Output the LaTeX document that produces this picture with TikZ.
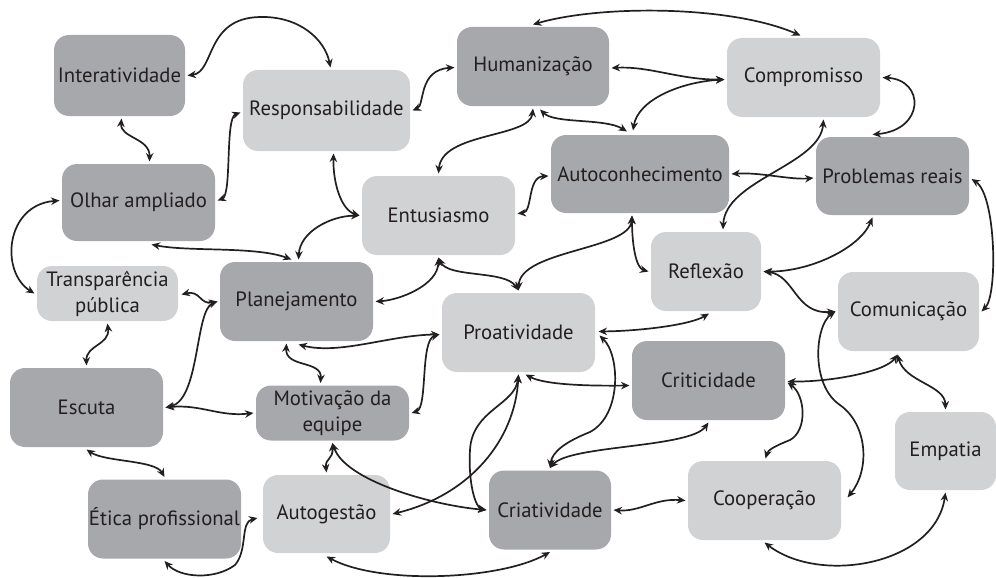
\documentclass[tikz,border=0pt]{standalone}
\usepackage{fontspec}
\setmainfont{PT Sans}
\usetikzlibrary{arrows.meta,calc}
\definecolor{boxdark}{HTML}{A7A8AB}
\definecolor{boxlight}{HTML}{D1D2D4}
\definecolor{ink}{HTML}{231F20}
\begin{document}
\begin{tikzpicture}[x=1pt,y=-1pt,
  basebox/.style={rounded corners=15pt, inner sep=0pt, outer sep=2.5pt, text=ink,
    font=\fontsize{20.7}{26}\selectfont, align=center},
  dk/.style={basebox, fill=boxdark},
  lt/.style={basebox, fill=boxlight},
  link/.style={draw=ink, line width=1.7pt, <->, >={Stealth[length=8.5pt,width=7.5pt]}}]
\useasboundingbox (0,0) rectangle (996,578);
% nodes
\node[dk, minimum width=131pt, minimum height=81pt] (inter) at (119.5,75.5) {Interatividade};
\node[lt, minimum width=167pt, minimum height=81pt] (resp) at (326.5,110.5) {Responsabilidade};
\node[dk, minimum width=152pt, minimum height=79pt] (hum) at (533,66.5) {Humanização};
\node[lt, minimum width=153pt, minimum height=79pt] (comp) at (803.5,77.5) {Compromisso};
\node[dk, minimum width=178pt, minimum height=78pt] (auto) at (640,174) {Autoconhecimento};
\node[dk, minimum width=153pt, minimum height=78pt] (prob) at (892.5,176) {Problemas reais};
\node[dk, minimum width=153pt, minimum height=77pt] (olhar) at (138.5,202.5) {Olhar ampliado};
\node[lt, minimum width=153pt, minimum height=79pt] (entu) at (438.5,215.5) {Entusiasmo};
\node[lt, minimum width=110pt, minimum height=79pt] (refl) at (706,271.5) {Reflexão};
\node[lt, minimum width=141pt, minimum height=55pt] (transp) at (107.5,293.5) {Transparência\\pública};
\node[dk, minimum width=153pt, minimum height=79pt] (plan) at (296.5,301.5) {Planejamento};
\node[lt, minimum width=141pt, minimum height=79pt] (comu) at (908.5,311.5) {Comunicação};
\node[lt, minimum width=153pt, minimum height=79pt] (proa) at (518.5,332.5) {Proatividade};
\node[dk, minimum width=153pt, minimum height=79pt] (crit) at (708.5,380.5) {Criticidade};
\node[dk, minimum width=153pt, minimum height=79pt] (escu) at (86.5,407.5) {Escuta};
\node[dk, minimum width=153pt, minimum height=55pt] (motiv) at (332.5,413) {Motivação da\\equipe};
\node[lt, minimum width=101pt, minimum height=78pt] (empa) at (945.5,451) {Empatia};
\node[dk, minimum width=153pt, minimum height=79pt] (etica) at (164.5,519) {Ética profissional};
\node[lt, minimum width=127pt, minimum height=78pt] (autog) at (326.5,514) {Autogestão};
\node[dk, minimum width=122pt, minimum height=79pt] (criat) at (550,510) {Criatividade};
\node[lt, minimum width=153pt, minimum height=79pt] (coop) at (764.5,500.5) {Cooperação};
% connectors
\draw[link] (inter.east) .. controls (215,72) and (205,18) .. (260,17) .. controls (300,16) and (325,40) .. ($(resp.north)+(4,0)$);
\draw[link] ($(inter.south)+(2,0)$) .. controls (120,138) and (150,138) .. ($(olhar.north)+(11,0)$);
\draw[link] ($(olhar.east)+(0,-2)$) .. controls (232,195) and (225,118) .. ($(resp.west)+(0,2)$);
\draw[link] (resp.east) .. controls (425,105) and (418,70) .. ($(hum.west)+(0,1)$);
\draw[link] (hum.north) .. controls (600,5) and (730,5) .. ($(comp.north)+(-3,0)$);
\draw[link] ($(hum.east)+(0,1.5)$) .. controls (650,66) and (680,80) .. ($(comp.west)+(0,2)$);
\draw[link] ($(comp.west)+(0,2)$) .. controls (680,82) and (638,100) .. ($(auto.north)+(-7,-2)$);
\draw[link] (hum.south) .. controls (530,138) and (442,132) .. (entu.north);
\draw[link] ($(hum.south)+(7,1)$) .. controls (555,124) and (605,118) .. ($(auto.north)+(-13,-1)$);
\draw[link] ($(comp.south)+(20,0)$) .. controls (820,165) and (725,180) .. ($(refl.north)+(17,0)$);
\draw[link] (auto.east) .. controls (760,172) and (790,180) .. ($(prob.west)+(0,2)$);
\draw[link] (comp.east) .. controls (925,80) and (925,130) .. ($(prob.north)+(-20,0)$);
\draw[link] ($(prob.east)+(0,3)$) .. controls (996,195) and (998,295) .. (comu.east);
\draw[link] ($(olhar.west)+(0,-2)$) .. controls (5,205) and (0,272) .. (transp.west);
\draw[link] ($(olhar.south)+(13,1)$) .. controls (190,252) and (255,246) .. ($(plan.north)+(-5,0)$);
\draw[link] (entu.west) .. controls (330,216) and (300,232) .. ($(plan.north)+(2,0)$);
\draw[link] ($(resp.south)+(7,0)$) .. controls (333,185) and (342,210) .. (entu.west);
\draw[link] ($(entu.east)+(0,-2)$) .. controls (533,212) and (527,177) .. ($(auto.west)+(0,2)$);
\draw[link] (entu.south) .. controls (438,285) and (400,300) .. (plan.east);
\draw[link] (entu.south) .. controls (448,278) and (505,270) .. (proa.north);
\draw[link] ($(auto.south)+(-8,0)$) .. controls (630,250) and (520,250) .. (proa.north);
\draw[link] ($(auto.south)+(-8,0)$) .. controls (632,245) and (636,268) .. (refl.west);
\draw[link] (refl.east) .. controls (810,272) and (860,248) .. ($(prob.south)+(-20,0)$);
\draw[link] (refl.east) .. controls (795,275) and (795,315) .. (comu.west);
\draw[link] ($(proa.east)+(1,-1)$) .. controls (640,331) and (690,325) .. ($(refl.south)+(3,0)$);
\draw[link] ($(transp.east)+(1,1)$) .. controls (200,290) and (200,305) .. (plan.west);
\draw[link] (transp.south) .. controls (110,345) and (86,345) .. (escu.north);
\draw[link] (plan.west) .. controls (195,310) and (200,400) .. (escu.east);
\draw[link] (escu.east) .. controls (200,404) and (220,417) .. (motiv.west);
\draw[link] ($(plan.south)+(-10,0)$) .. controls (285,368) and (322,360) .. ($(motiv.north)+(-12,0)$);
\draw[link] ($(plan.south)+(2,1)$) .. controls (340,355) and (390,335) .. ($(proa.west)+(0,2)$);
\draw[link] (motiv.east) .. controls (428,408) and (420,340) .. ($(proa.west)+(0,2)$);
\draw[link] (motiv.south) .. controls (333,460) and (325,458) .. (autog.north);
\draw[link] (motiv.south) .. controls (345,480) and (430,505) .. (criat.west);
\draw[link] (proa.south) .. controls (515,440) and (470,495) .. (autog.east);
\draw[link] (proa.south) .. controls (515,405) and (472,410) .. (470,450) .. controls (468,485) and (476,508) .. (criat.west);
\draw[link] ($(proa.south)+(7,0)$) .. controls (545,385) and (590,386) .. ($(crit.west)+(0,5)$);
\draw[link] ($(proa.east)+(2,3)$) .. controls (620,355) and (622,415) .. (590,432) .. controls (565,442) and (552,452) .. (criat.north);
\draw[link] (criat.north) .. controls (570,445) and (690,448) .. (crit.south);
\draw[link] ($(crit.east)+(0,1)$) .. controls (830,382) and (885,372) .. ($(comu.south)+(-11,1)$);
\draw[link] ($(crit.east)+(0,2)$) .. controls (805,395) and (808,430) .. (790,440) .. controls (775,446) and (768,450) .. ($(coop.north)+(1,0)$);
\draw[link] ($(comu.south)+(-11,1)$) .. controls (905,382) and (945,385) .. (empa.north);
\draw[link] (comu.west) .. controls (815,325) and (810,385) .. (840,405) .. controls (868,425) and (870,470) .. ($(coop.east)+(4,-3)$);
\draw[link] (criat.east) .. controls (640,512) and (655,498) .. (coop.west);
\draw[link] (coop.south) .. controls (820,585) and (935,565) .. (empa.south);
\draw[link] ($(autog.south)+(0,1)$) .. controls (380,585) and (500,580) .. (criat.south);
\draw[link] (etica.south) .. controls (180,578) and (215,580) .. (235,565) .. controls (248,550) and (240,522) .. ($(autog.west)+(-3,4)$);
\draw[link] (escu.south) .. controls (105,462) and (155,460) .. (etica.north);
\end{tikzpicture}
\end{document}
